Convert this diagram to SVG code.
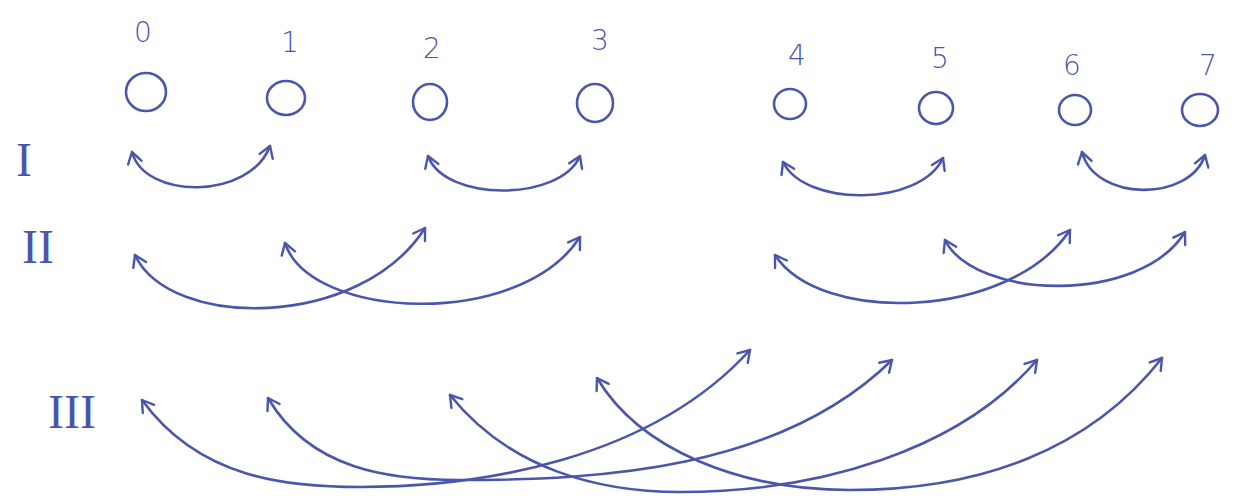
<svg xmlns="http://www.w3.org/2000/svg" width="1242" height="500" viewBox="0 0 1242 500">
<style>
.ink{fill:none;stroke:#4b56aa;stroke-width:2.6;stroke-linecap:round;stroke-linejoin:round}
.num{font-family:"DejaVu Sans","Liberation Sans",sans-serif;font-size:28px;fill:#4b56aa;text-anchor:middle;font-weight:300}
.rom{font-family:"Liberation Serif","DejaVu Serif",serif;font-size:48px;fill:#4b56aa;text-anchor:middle}
.arc{fill:none;stroke:#4b56aa;stroke-width:2.6;stroke-linecap:round;marker-start:url(#ah);marker-end:url(#ah)}
</style>
<defs>
<marker id="ah" markerUnits="userSpaceOnUse" viewBox="-14 -9 16 18" refX="0" refY="0" markerWidth="16" markerHeight="18" orient="auto-start-reverse">
<path d="M-11,-7 L0,0 L-11,7" fill="none" stroke="#4b56aa" stroke-width="2.4" stroke-linecap="round" stroke-linejoin="round"/>
</marker>
</defs>
<rect width="1242" height="500" fill="#ffffff"/>
<g id="labels">
<text class="rom" x="24" y="176">I</text>
<text class="rom" x="38" y="263">II</text>
<text class="rom" x="72" y="428">III</text>
</g>
<g id="node0"><ellipse class="ink" cx="146" cy="92" rx="20" ry="19"/><text class="num" x="143" y="42">0</text></g>
<g id="node1"><ellipse class="ink" cx="286" cy="98" rx="19" ry="17"/><text class="num" x="290" y="52">1</text></g>
<g id="node2"><ellipse class="ink" cx="430" cy="102" rx="17" ry="18"/><text class="num" x="432" y="58">2</text></g>
<g id="node3"><ellipse class="ink" cx="595" cy="103" rx="18" ry="19"/><text class="num" x="600" y="50">3</text></g>
<g id="node4"><ellipse class="ink" cx="790" cy="104" rx="16" ry="15"/><text class="num" x="797" y="65">4</text></g>
<g id="node5"><ellipse class="ink" cx="936" cy="108" rx="17" ry="16"/><text class="num" x="940" y="68">5</text></g>
<g id="node6"><ellipse class="ink" cx="1075" cy="110" rx="16" ry="15"/><text class="num" x="1072" y="75">6</text></g>
<g id="node7"><ellipse class="ink" cx="1200" cy="110" rx="18" ry="16"/><text class="num" x="1208" y="75">7</text></g>
<g id="connectors">
<path class="arc" d="M132,152 C145,200 250,200 270,146"/>
<path class="arc" d="M428,156 C445,202 560,202 580,156"/>
<path class="arc" d="M783,162 C805,207 920,207 943,158"/>
<path class="arc" d="M1082,152 C1095,202 1190,202 1205,155"/>
<path class="arc" d="M135,255 C170,330 360,330 425,228"/>
<path class="arc" d="M285,243 C310,320 520,330 580,237"/>
<path class="arc" d="M775,255 C820,325 1010,320 1070,230"/>
<path class="arc" d="M945,240 C975,300 1140,305 1185,232"/>
<path class="arc" d="M142,400 C200,480 290,487 360,487 C480,487 650,460 750,350"/>
<path class="arc" d="M268,398 C310,470 390,480 460,480 C600,480 780,470 892,360"/>
<path class="arc" d="M450,395 C510,470 600,492 680,492 C820,492 960,450 1037,360"/>
<path class="arc" d="M597,378 C640,450 740,490 850,490 C980,490 1090,450 1162,358"/>
</g>
</svg>
